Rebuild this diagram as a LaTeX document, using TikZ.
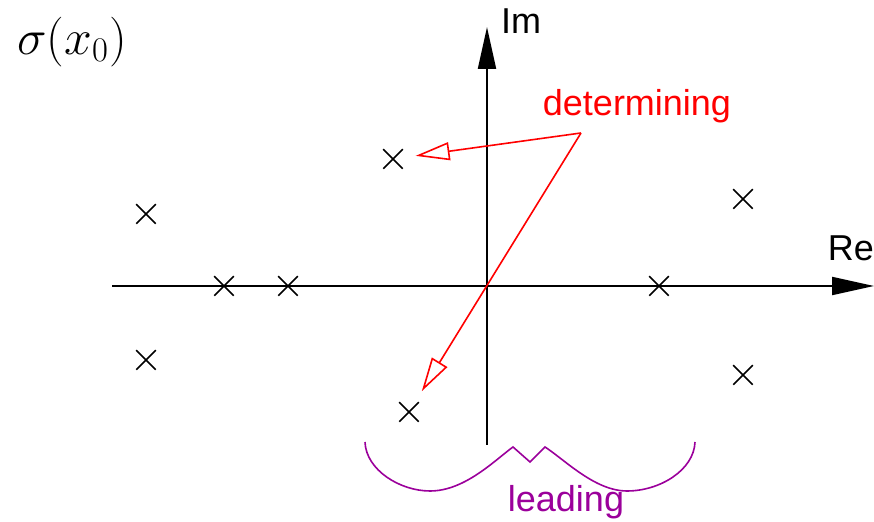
\documentclass[tikz,border=0pt]{standalone}
\usepackage{fontspec}
\setmainfont{Liberation Sans}
\usetikzlibrary{arrows.meta,shapes.misc}
\definecolor{leadcol}{RGB}{155,0,155}

\begin{document}
\begin{tikzpicture}[x=0.5pt,y=-0.5pt,
    pole/.style={cross out,draw,line width=0.75pt,minimum size=9pt,inner sep=0pt},
    lbl/.style={font=\fontsize{18}{21}\selectfont},
    axis/.style={line width=1pt,-{Triangle[length=21pt,width=9pt]}},
    pointer/.style={red,line width=0.8pt,-{Triangle[open,length=17pt,width=9pt]}}]
  \useasboundingbox (0,0) rectangle (874,522);
  % axes
  \coordinate (o) at (487,286);
  \draw[axis] (112,286) -- (874,286);
  \draw[axis] (487,445) -- (487,27);
  \node[lbl] (re) at (851,248) {Re};
  \node[lbl] (im) at (521,21) {Im};
  \node[font=\fontsize{25.5}{30}\selectfont] (sig) at (72,42) {$\sigma(x_0)$};
  % poles
  \node[pole] (p1) at (146,214) {};
  \node[pole] (p2) at (146,360) {};
  \node[pole] (p3) at (224,286) {};
  \node[pole] (p4) at (288,286) {};
  \node[pole] (p5) at (393,159) {};
  \node[pole] (p6) at (409,412) {};
  \node[pole] (p7) at (659,286) {};
  \node[pole] (p8) at (743,199) {};
  \node[pole] (p9) at (743,375) {};
  % determining
  \node[lbl,red] (det) at (637,106) {determining};
  \coordinate (d) at (581,133);
  \draw[pointer,shorten >=6.5pt] (d) -- (p5);
  \draw[pointer,shorten >=6.5pt] (d) -- (p6);
  % leading
  \draw[leadcol,line width=0.8pt] (365,442) .. controls (366,470) and (400,491) .. (430,491)
    .. controls (465,491) and (495,460) .. (513,447) -- (530,462) -- (545,447)
    .. controls (565,460) and (595,491) .. (627,491)
    .. controls (660,491) and (694,470) .. (695,442);
  \node[lbl,leadcol] (lead) at (566,502) {leading};
\end{tikzpicture}
\end{document}
